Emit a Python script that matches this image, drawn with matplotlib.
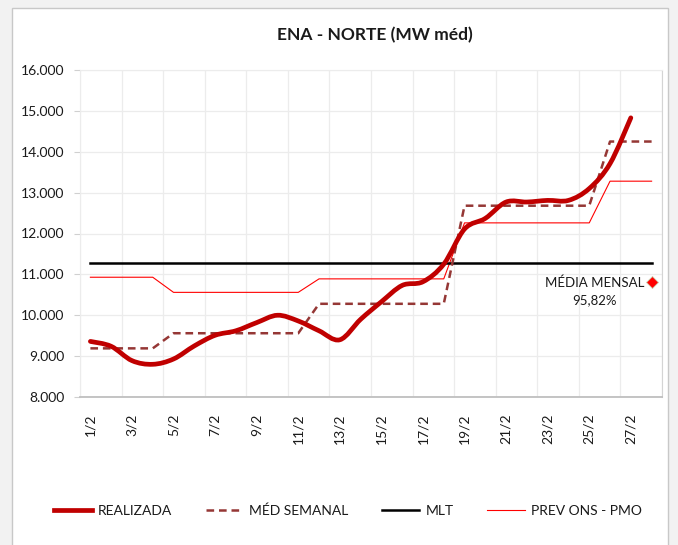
import matplotlib
matplotlib.use("Agg")
import matplotlib.pyplot as plt
import numpy as np
from matplotlib.lines import Line2D
from matplotlib.patches import Rectangle, PathPatch
from matplotlib.path import Path
from matplotlib.ticker import FuncFormatter, FixedLocator

plt.rcParams['font.family'] = ['Lato', 'DejaVu Sans']
plt.rcParams['lines.scale_dashes'] = False

# -----------------------
days = list(range(1, 29))
dias_realizado = list(range(1, 28))
tick_days = list(range(1, 29, 2))
tick_labels = [f"{d}/2" for d in tick_days]

realizada = [9360, 9240, 8890, 8800, 8930, 9250, 9510, 9620, 9820, 10000,
             9860, 9620, 9400, 9900, 10330, 10730, 10820, 11250, 12110, 12370,
             12770, 12770, 12810, 12810, 13100, 13710, 14830]
med_semanal = [9190, 9190, 9190, 9190,
               9560, 9560, 9560, 9560, 9560, 9560, 9560,
               10280, 10280, 10280, 10280, 10280, 10280, 10280,
               12680, 12680, 12680, 12680, 12680, 12680, 12680,
               14250, 14250, 14250]
mlt = [11290, 11290, 11290, 11290, 11290, 11290, 11290, 11290, 11290, 11290,
       11290, 11290, 11290, 11290, 11290, 11290, 11290, 11290, 11290, 11290,
       11290, 11290, 11290, 11290, 11290, 11290, 11290, 11290]
prev_pmo = [10930, 10930, 10930, 10930,
            10560, 10560, 10560, 10560, 10560, 10560, 10560,
            10890, 10890, 10890, 10890, 10890, 10890, 10890,
            12260, 12260, 12260, 12260, 12260, 12260, 12260,
            13280, 13280, 13280]
media_mensal = 10820
media_pct = "95,82%"

C_REAL = '#C00000'
C_SEM = '#953735'
C_MLT = '#000000'
C_PMO = '#FF0000'
C_GRID = '#ECECEC'
C_TEXT = '#1a1a1a'


def smooth_path(x, y):
    # excel-like smoothed line (bezier through the points)
    pts = np.column_stack([x, y]).astype(float)
    n = len(pts)
    verts = [pts[0]]
    codes = [Path.MOVETO]
    for i in range(n - 1):
        p0 = pts[i - 1] if i > 0 else pts[i]
        p1 = pts[i]
        p2 = pts[i + 1]
        p3 = pts[i + 2] if i + 2 < n else pts[i + 1]
        verts += [p1 + (p2 - p0) / 6, p2 - (p3 - p1) / 6, p2]
        codes += [Path.CURVE4] * 3
    return Path(verts, codes)


fig = plt.figure(figsize=(6.78, 5.45), dpi=100)
fig.patch.set_facecolor('#F2F2F2')
fig.patches.append(Rectangle((12 / 678, -0.02), 656 / 678, (537 / 545) + 0.02,
                             transform=fig.transFigure, fc='white', ec='#C8C8C8',
                             lw=1, zorder=-10))

ax = fig.add_axes([80 / 678, 1 - 397 / 545, 582 / 678, 327 / 545])
ax.set_xlim(0.5, 28.5)
ax.set_ylim(8000, 16000)

ax.set_yticks(range(8000, 16001, 1000))
ax.yaxis.set_major_formatter(FuncFormatter(lambda v, p: f"{int(v):,}".replace(',', '.')))
ax.set_xticks(tick_days)
ax.set_xticklabels(tick_labels, rotation=90)
ax.xaxis.set_minor_locator(FixedLocator(np.arange(0.5, 28.6, 2)))

ax.grid(True, axis='y', color=C_GRID, lw=0.9)
ax.grid(True, axis='x', which='minor', color=C_GRID, lw=0.9)
ax.set_axisbelow(True)

ax.tick_params(axis='x', which='both', length=0, pad=12, labelsize=10, colors=C_TEXT)
ax.tick_params(axis='y', length=4, pad=7, labelsize=10, colors=C_TEXT, color='#D0D0D0')

for s in ['top', 'left']:
    ax.spines[s].set_color(C_GRID)
ax.spines['right'].set_color('#D4D4D4')
ax.spines['bottom'].set_color('#BFBFBF')
ax.spines['bottom'].set_linewidth(1.3)

# series
ax.plot(days, prev_pmo, color=C_PMO, lw=0.8, zorder=3)
ax.plot(days, mlt, color=C_MLT, lw=1.8, zorder=3)
ax.plot(days, med_semanal, color=C_SEM, lw=1.8, dashes=(5.5, 3.5), zorder=4)
ax.add_patch(PathPatch(smooth_path(dias_realizado, realizada), fill=False,
                       ec=C_REAL, lw=3.4, capstyle='round', joinstyle='round', zorder=5))

ax.plot([28], [media_mensal], marker='D', ms=6.5, color='#FF0000', mec='#C8D0B0',
        mew=0.6, ls='none', zorder=6)
ax.annotate(f"MÉDIA MENSAL\n{media_pct}", xy=(28, media_mensal), xytext=(-41, 4),
            textcoords='offset points', ha='center', va='top', fontsize=9.5,
            linespacing=1.5, color=C_TEXT, zorder=6)

fig.text(375 / 678, 1 - 35 / 545, "ENA - NORTE (MW méd)", ha='center', va='center',
         fontsize=12.5, fontweight='bold', color=C_TEXT)

handles = [
    Line2D([], [], color=C_REAL, lw=3.4),
    Line2D([], [], color=C_SEM, lw=1.8, dashes=(5.5, 3.5)),
    Line2D([], [], color=C_MLT, lw=1.8),
    Line2D([], [], color=C_PMO, lw=0.8),
]
labels = ["REALIZADA", "MÉD SEMANAL", "MLT", "PREV ONS - PMO"]
fig.legend(handles, labels, loc='center', bbox_to_anchor=(348 / 678, 1 - 511 / 545),
           ncol=4, frameon=False, fontsize=10, handlelength=2.7, handletextpad=0.45,
           columnspacing=2.4, labelcolor=C_TEXT)

fig.savefig("out.png", dpi=100, facecolor=fig.get_facecolor())
